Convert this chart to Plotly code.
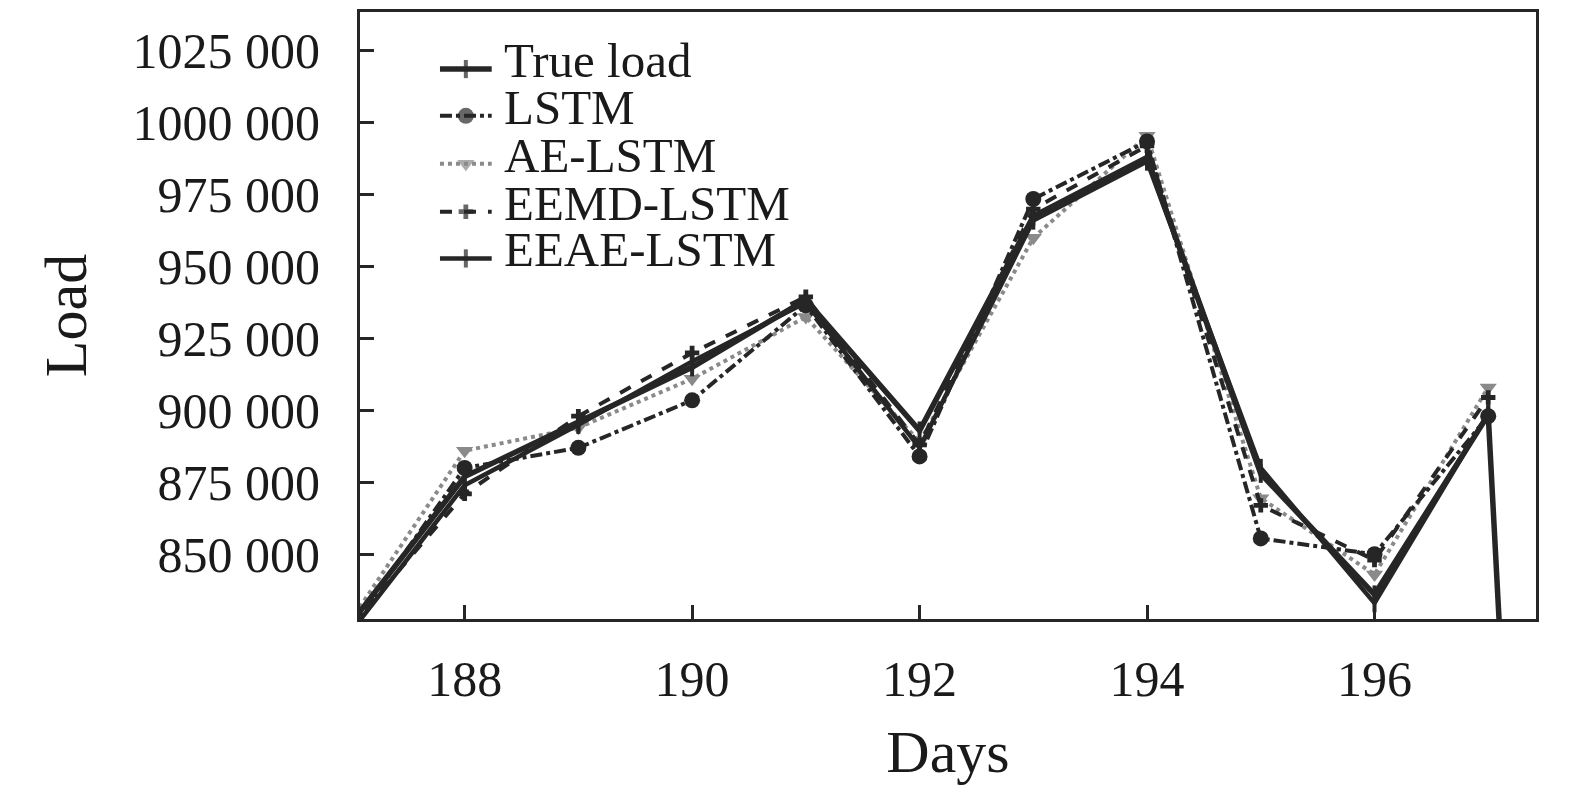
"""
Load forecast comparison (days 187-197): true load vs. LSTM variants, serif styling like the paper figure.
"""

import plotly.graph_objects as go

days = [187, 188, 189, 190, 191, 192, 193, 194, 195, 196, 197]
days_true = days + [198]

true_load = [826000, 877000, 896000, 915000, 938500, 893000, 967500, 988000, 878000, 836000, 898500, 150000]
lstm = [824000, 880000, 887000, 903500, 936500, 884000, 973500, 993500, 855500, 850000, 898000]
ae_lstm = [827000, 886000, 894000, 911000, 932500, 889000, 960000, 995500, 869500, 843000, 908000]
eemd_lstm = [825000, 871000, 898000, 920000, 939500, 888000, 970000, 992000, 867000, 848000, 904500]
eeae_lstm = [823000, 874000, 895000, 917000, 937500, 887000, 966000, 986500, 880000, 833000, 899000]

y_ticks = [850000, 875000, 900000, 925000, 950000, 975000, 1000000, 1025000]
y_ticktext = ["850 000", "875 000", "900 000", "925 000", "950 000", "975 000", "1000 000", "1025 000"]
x_ticks = [188, 190, 192, 194, 196]

names = ["True load", "LSTM", "AE-LSTM", "EEMD-LSTM", "EEAE-LSTM"]

FONT = "Liberation Serif"
DARK = "#262626"
GREY = "#8a8a8a"

# style per series: (color, dash, width, symbol, size)
styles = {
    "True load": (DARK, "solid", 5.5, "line-ns", 13),
    "LSTM": (DARK, "dashdot", 4, "circle", 16),
    "AE-LSTM": (GREY, "dot", 4, "triangle-down", 15),
    "EEMD-LSTM": (DARK, "dash", 4, "cross", 12),
    "EEAE-LSTM": (DARK, "solid", 4.5, "line-ns", 13),
}
series = {
    "True load": (days_true, true_load),
    "LSTM": (days, lstm),
    "AE-LSTM": (days, ae_lstm),
    "EEMD-LSTM": (days, eemd_lstm),
    "EEAE-LSTM": (days, eeae_lstm),
}

fig = go.Figure()

# grey ones first so the dark lines sit on top
for name in ["AE-LSTM", "EEMD-LSTM", "LSTM", "EEAE-LSTM", "True load"]:
    color, dash, width, symbol, size = styles[name]
    x, y = series[name]
    fig.add_trace(go.Scatter(
        x=x, y=y, name=name, mode="lines+markers",
        line=dict(color=color, dash=dash, width=width),
        marker=dict(symbol=symbol, size=size, color=color,
                    line=dict(color=color, width=4 if symbol == "line-ns" else 0)),
        showlegend=False))

# hand made legend (plotly's own legend rows are too tall for this font size)
row_y = [0.906, 0.829, 0.750, 0.671, 0.594]
for name, ry in zip(names, row_y):
    color, dash, width, symbol, size = styles[name]
    fig.add_trace(go.Scatter(
        x=[0.068, 0.090, 0.112], y=[ry, ry, ry], mode="lines+markers",
        xaxis="x2", yaxis="y2",
        line=dict(color=color, dash=dash, width=width),
        marker=dict(symbol=symbol, size=[0, size, 0], color=color,
                    line=dict(color=color, width=4 if symbol == "line-ns" else 0)),
        showlegend=False, hoverinfo="skip"))
    fig.add_annotation(x=0.121, y=ry + 0.014, xref="paper", yref="paper", text=name,
                       showarrow=False, xanchor="left", yanchor="middle",
                       font=dict(family=FONT, size=49, color="#1a1a1a"))

fig.update_layout(
    width=1575, height=793,
    margin=dict(l=352, r=47, t=4, b=182, autoexpand=False),
    paper_bgcolor="white", plot_bgcolor="white",
    font=dict(family=FONT, size=50, color="#1a1a1a"),
    xaxis=dict(range=[187.08, 197.42], tickvals=x_ticks, ticks="inside", ticklen=14, tickwidth=3,
               tickcolor=DARK, showline=True, linecolor=DARK, linewidth=3, mirror=True,
               showgrid=False, zeroline=False, ticklabelstandoff=14, automargin=False,
               title=dict(text="Days", standoff=24)),
    yaxis=dict(range=[827500, 1038500], tickvals=y_ticks, ticktext=y_ticktext, ticks="inside",
               ticklen=14, tickwidth=3, tickcolor=DARK, showline=True, linecolor=DARK, linewidth=3,
               mirror=True, showgrid=False, zeroline=False, ticklabelstandoff=27, automargin=False,
               title=dict(text="Load", standoff=27)),
    xaxis2=dict(overlaying="x", range=[0, 1], visible=False),
    yaxis2=dict(overlaying="y", range=[0, 1], visible=False),
)

fig.write_html("out.html")
